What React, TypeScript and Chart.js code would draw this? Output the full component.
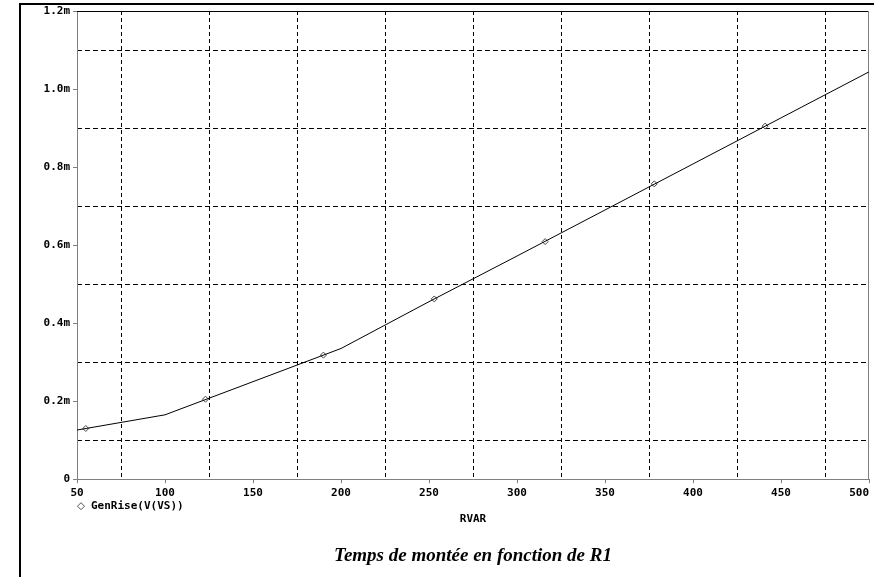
import React, { useEffect, useRef } from "react";
import { Chart, registerables } from "chart.js";

Chart.register(...registerables);

// Curve samples (RVAR, GenRise in ms)
const rvar = [50, 100, 150, 200, 250, 300, 350, 400, 450, 500];
const genRise = [0.126, 0.165, 0.25, 0.335, 0.455, 0.572, 0.69, 0.808, 0.926, 1.044];

// Marker symbols along the trace
const markerX = [55, 123, 190, 253, 316, 378, 441];
const markerY = [0.13, 0.205, 0.318, 0.462, 0.609, 0.757, 0.905];

// Dashed grid positions
const gridX = [75, 125, 175, 225, 275, 325, 375, 425, 475];
const gridY = [0.1, 0.3, 0.5, 0.7, 0.9, 1.1];

const seriesLabel = "GenRise(V(VS))";
const xTitle = "RVAR";
const chartTitle = "Temps de montée en fonction de R1";

const MONO = "'DejaVu Sans Mono', monospace";

const framePlugin = {
  id: "frameEdges",
  beforeDatasetsDraw(chart: any) {
    const { ctx, chartArea: a } = chart;
    ctx.save();
    ctx.lineWidth = 1;
    ctx.strokeStyle = "#000";
    ctx.beginPath();
    ctx.moveTo(a.left, a.top + 0.5);
    ctx.lineTo(a.right, a.top + 0.5);
    ctx.stroke();
    ctx.strokeStyle = "#808080";
    ctx.beginPath();
    ctx.moveTo(a.right - 0.5, a.top);
    ctx.lineTo(a.right - 0.5, a.bottom);
    ctx.stroke();
    ctx.restore();
  },
};

const legendPlugin = {
  id: "pspiceLegend",
  afterDraw(chart: any) {
    const { ctx, chartArea: a } = chart;
    const cx = a.left + 4;
    const cy = a.bottom + 27;
    ctx.save();
    ctx.strokeStyle = "#555";
    ctx.fillStyle = "#fff";
    ctx.lineWidth = 1;
    ctx.beginPath();
    ctx.moveTo(cx, cy - 3.5);
    ctx.lineTo(cx + 3.5, cy);
    ctx.lineTo(cx, cy + 3.5);
    ctx.lineTo(cx - 3.5, cy);
    ctx.closePath();
    ctx.fill();
    ctx.stroke();
    ctx.fillStyle = "#000";
    ctx.font = `bold 11px ${MONO}`;
    ctx.textAlign = "left";
    ctx.textBaseline = "middle";
    ctx.fillText(chart.data.datasets[0].label, a.left + 14, cy);
    ctx.restore();
  },
};

export default function App() {
  const ref = useRef<HTMLCanvasElement | null>(null);

  useEffect(() => {
    if (!ref.current) return;
    const chart = new Chart(ref.current, {
      type: "scatter",
      data: {
        datasets: [
          {
            label: seriesLabel,
            data: rvar.map((x, i) => ({ x, y: genRise[i] })),
            showLine: true,
            borderColor: "#000",
            borderWidth: 1,
            pointRadius: 0,
            tension: 0,
            fill: false,
          },
          {
            label: "markers",
            data: markerX.map((x, i) => ({ x, y: markerY[i] })),
            showLine: false,
            pointStyle: "rectRot",
            pointRadius: 3,
            pointBorderColor: "#444",
            pointBackgroundColor: "#fff",
            pointBorderWidth: 1,
          },
        ],
      },
      options: {
        animation: false,
        responsive: false,
        maintainAspectRatio: false,
        layout: { padding: { left: 0, top: 11, right: 2, bottom: 0 } },
        plugins: {
          legend: { display: false },
          tooltip: { enabled: false },
          title: {
            display: true,
            position: "bottom",
            fullSize: false,
            text: chartTitle,
            color: "#000",
            font: { family: "'Liberation Serif', serif", size: 19, style: "italic", weight: "bold" },
            padding: { top: 0, bottom: 10 },
          },
        },
        scales: {
          x: {
            type: "linear",
            position: "bottom",
            min: 50,
            max: 500,
            ticks: {
              stepSize: 50,
              color: "#000",
              padding: 3,
              maxRotation: 0,
              autoSkip: false,
              font: { family: MONO, size: 11, weight: "bold" },
              callback: (v: any) => (v === 500 ? "500   " : String(v)),
            },
            grid: { drawOnChartArea: false, drawTicks: true, tickLength: 4, color: "#808080" },
            border: { display: true, color: "#808080" },
            title: {
              display: true,
              text: xTitle,
              color: "#000",
              font: { family: MONO, size: 11, weight: "bold" },
              padding: { top: 0, bottom: 18 },
            },
            afterFit: (axis: any) => {
              axis.height = 65;
              axis.paddingLeft = 0;
              axis.paddingRight = 0;
            },
          },
          x2: {
            type: "linear",
            position: "bottom",
            min: 50,
            max: 500,
            ticks: { display: false },
            grid: {
              drawOnChartArea: true,
              drawTicks: false,
              color: "#000",
              lineWidth: 1,
              borderDash: [4, 3],
            },
            border: { display: false, dash: [4, 3] },
            afterBuildTicks: (axis: any) => {
              axis.ticks = gridX.map((v) => ({ value: v }));
            },
            afterFit: (axis: any) => {
              axis.height = 0;
              axis.paddingLeft = 0;
              axis.paddingRight = 0;
            },
          },
          y: {
            type: "linear",
            position: "left",
            min: 0,
            max: 1.2,
            ticks: {
              stepSize: 0.2,
              color: "#000",
              padding: 3,
              font: { family: MONO, size: 11, weight: "bold" },
              callback: (v: any) => (Math.abs(v) < 1e-9 ? "0" : Number(v).toFixed(1) + "m"),
            },
            grid: { drawOnChartArea: false, drawTicks: true, tickLength: 4, color: "#808080" },
            border: { display: true, color: "#808080" },
            afterFit: (axis: any) => {
              axis.width = 77;
              axis.paddingTop = 0;
              axis.paddingBottom = 0;
            },
          },
          y2: {
            type: "linear",
            position: "left",
            min: 0,
            max: 1.2,
            ticks: { display: false },
            grid: {
              drawOnChartArea: true,
              drawTicks: false,
              color: "#000",
              lineWidth: 1,
              borderDash: [5, 3],
            },
            border: { display: false, dash: [5, 3] },
            afterBuildTicks: (axis: any) => {
              axis.ticks = gridY.map((v) => ({ value: v }));
            },
            afterFit: (axis: any) => {
              axis.width = 0;
              axis.paddingTop = 0;
              axis.paddingBottom = 0;
            },
          },
        },
      },
      plugins: [framePlugin, legendPlugin],
    } as any);
    return () => chart.destroy();
  }, []);

  return (
    <div
      style={{
        position: "absolute",
        left: 0,
        top: 0,
        width: 874,
        height: 577,
        overflow: "hidden",
        background: "#fff",
      }}
    >
      <canvas ref={ref} width={874} height={577} style={{ position: "absolute", left: 0, top: 0 }} />
      <div
        style={{
          position: "absolute",
          left: 19,
          top: 3,
          width: 1000,
          height: 1000,
          border: "2px solid #000",
          pointerEvents: "none",
        }}
      />
    </div>
  );
}
